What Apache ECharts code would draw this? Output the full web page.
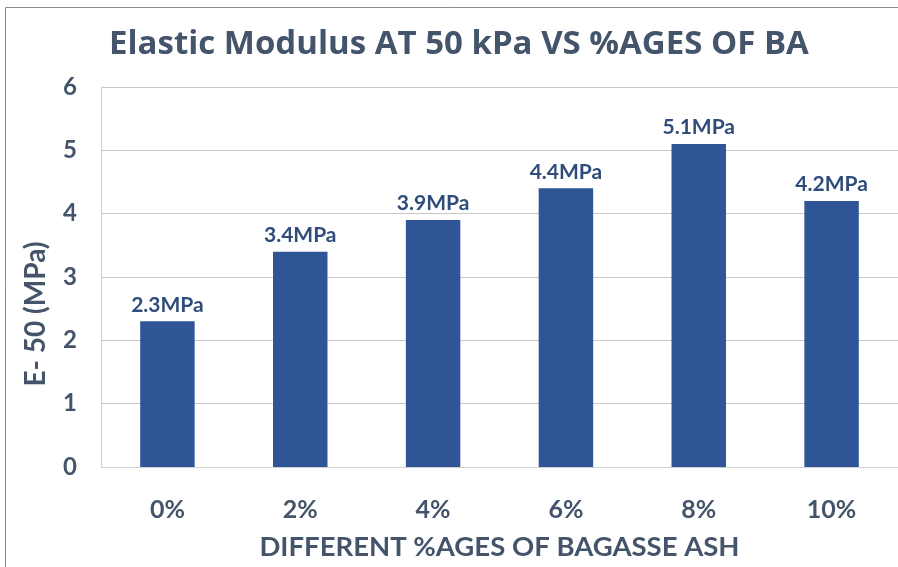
<!DOCTYPE html>
<html>
<head>
<meta charset="utf-8">
<script src="https://cdn.jsdelivr.net/npm/echarts@6/dist/echarts.min.js"></script>
<style>
html,body{margin:0;padding:0;background:#fff;}
#chart{width:898px;height:567px;}
</style>
</head>
<body>
<div id="chart"></div>
<script>
// Bagasse ash content and elastic modulus at 50 kPa
const categories = ['0%', '2%', '4%', '6%', '8%', '10%'];
const modulusValues = [2.3, 3.4, 3.9, 4.4, 5.1, 4.2];
const yTicks = [0, 1, 2, 3, 4, 5, 6];

const titleText = 'Elastic Modulus AT 50 kPa VS %AGES OF BA';
const yName = 'E- 50 (MPa)';
const xName = 'DIFFERENT %AGES OF BAGASSE ASH';

const FONT = 'Lato, "Open Sans", sans-serif';
const TITLE_FONT = '"Open Sans", Lato, sans-serif';
const TEXT_COLOR = '#44546A';

const chart = echarts.init(document.getElementById('chart'), null, {renderer: 'canvas'});
chart.setOption({
  backgroundColor: '#ffffff',
  animation: false,
  title: {
    text: titleText,
    left: 104,
    top: 23,
    textStyle: {fontFamily: TITLE_FONT, fontSize: 33, fontWeight: 'bold', color: TEXT_COLOR}
  },
  grid: {left: 101, right: 0, top: 87, bottom: 100},
  xAxis: {
    type: 'category',
    data: categories,
    name: xName,
    nameLocation: 'middle',
    nameGap: 66,
    nameTextStyle: {fontFamily: FONT, fontSize: 27.5, fontWeight: 'bold', color: TEXT_COLOR},
    axisLine: {show: true, lineStyle: {color: '#d0d0d0', width: 1}},
    axisTick: {show: false},
    axisLabel: {fontFamily: FONT, fontSize: 25, fontWeight: 'bold', color: TEXT_COLOR, margin: 30}
  },
  yAxis: {
    type: 'value',
    min: yTicks[0],
    max: yTicks[yTicks.length - 1],
    interval: 1,
    axisLine: {show: true, lineStyle: {color: '#d0d0d0', width: 1}},
    axisTick: {show: false},
    splitLine: {show: true, lineStyle: {color: '#c8c8c8', width: 1}},
    axisLabel: {fontFamily: FONT, fontSize: 24, fontWeight: 'bold', color: TEXT_COLOR, margin: 24}
  },
  graphic: [{
    type: 'rect',
    shape: {x: 5.5, y: 7.5, width: 1000, height: 1000},
    style: {fill: 'none', stroke: '#8a8a8a', lineWidth: 1},
    silent: true
  }, {
    type: 'text',
    x: 36,
    y: 314,
    rotation: Math.PI / 2,
    style: {
      text: yName,
      fontFamily: FONT, fontSize: 28, fontWeight: 'bold', fill: TEXT_COLOR,
      textAlign: 'center', textVerticalAlign: 'middle'
    }
  }],
  series: [{
    type: 'bar',
    data: modulusValues,
    barWidth: '41%',
    itemStyle: {color: '#2F5597'},
    label: {
      show: true,
      position: 'top',
      distance: 6,
      formatter: p => p.value + 'MPa',
      fontFamily: FONT, fontSize: 21, fontWeight: 'bold', color: '#2E4D7B'
    }
  }]
});
</script>
</body>
</html>
